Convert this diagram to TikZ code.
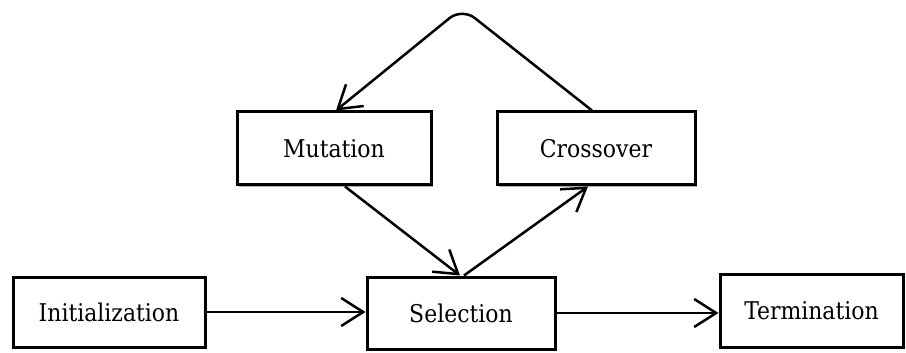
\documentclass[tikz,border=0pt]{standalone}
\usepackage{fontspec}
\setmainfont{DejaVu Serif Condensed}
\usetikzlibrary{arrows.meta,shadows,calc}

\tikzset{
  stage/.style={draw=black, line width=1.5pt, fill=white, inner sep=0pt,
    font=\fontsize{12.2}{14}\selectfont,
    drop shadow={shadow xshift=1.2pt, shadow yshift=-1.2pt, opacity=0.6, fill=black!55}},
  flow/.style={line width=1.25pt, -{Straight Barb[length=11pt, width=14pt, line width=1.25pt]}}
}

\begin{document}
\begin{tikzpicture}[x=0.5pt, y=-0.5pt]
  \useasboundingbox (0,0) rectangle (906,353);

  % the five stages of the algorithm
  \node[stage, minimum width=96pt, minimum height=35pt] (init) at (109,312) {Initialization};
  \node[stage, minimum width=94pt, minimum height=36pt] (sel)  at (461,313) {Selection};
  \node[stage, minimum width=91.5pt, minimum height=36.5pt] (term) at (811.5,310.5) {Termination};
  \node[stage, minimum width=97pt, minimum height=36.5pt] (mut)  at (334,148.5) {Mutation};
  \node[stage, minimum width=99pt, minimum height=36.5pt] (cross) at (596,148.5) {Crossover};

  \coordinate (apex) at (462,8);

  % transitions
  \draw[flow] (init.east) -- (init.east -| sel.west);
  \draw[flow] (sel.east) -- (sel.east -| term.west);
  \draw[flow] ($(mut.south)+(11,0)$) -- ($(sel.north)+(-1,0)$);
  \draw[flow] ($(sel.north)+(3,0)$) -- ($(cross.south)+(-8,0)$);
  \draw[flow, rounded corners=8pt] ($(cross.north)+(-4,0)$) -- (apex) -- ($(mut.north)+(2,0)$);
\end{tikzpicture}
\end{document}
